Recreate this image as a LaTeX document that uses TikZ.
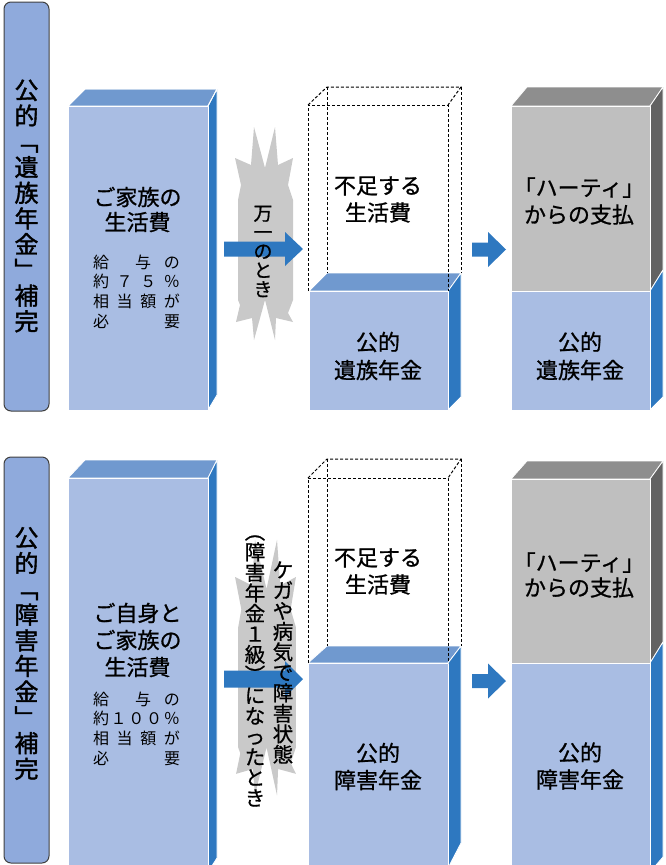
\documentclass[tikz,border=0pt]{standalone}
\usepackage{fontspec}
\setmainfont{Noto Sans CJK JP}
\newfontfamily\jp[FakeBold=0.9]{Noto Sans CJK JP}
\newfontfamily\jps{Noto Sans CJK JP}
\newfontfamily\jpv[FakeBold=0.8]{Noto Sans CJK JP}
\newfontfamily\jpvb[FakeBold=1.6]{Noto Sans CJK JP}
\definecolor{lbl}{HTML}{8FAADC}
\definecolor{lblb}{HTML}{404040}
\definecolor{bfront}{HTML}{A9BDE3}
\definecolor{btop}{HTML}{7099CF}
\definecolor{bside}{HTML}{2E78C0}
\definecolor{gfront}{HTML}{BFBFBF}
\definecolor{gtop}{HTML}{8E8E8E}
\definecolor{gside}{HTML}{626262}
\definecolor{burstc}{HTML}{C9C9C9}
\definecolor{arr}{HTML}{2E78C0}
\tikzset{
  face/.style={draw=white, line width=0.8pt, line join=round},
  dashbox/.style={draw=black, dash pattern=on 3pt off 2pt, line width=1pt},
  lblbox/.style={fill=lbl, draw=lblb, line width=1pt, rounded corners=7pt},
  lbltext/.style={font=\jpvb\fontsize{24}{25.7}\selectfont, align=center, inner sep=0},
  maintext/.style={font=\jp\fontsize{22}{#1}\selectfont, align=center, inner sep=0},
  smalltext/.style={font=\jps\fontsize{16}{19.7}\selectfont, align=left, inner sep=0},
  vtext/.style={font=\jpv\fontsize{#1}{#1}\selectfont, align=center, inner sep=0},
  burst/.style={fill=burstc},
}
\newcommand\burstpath{(-10.5,-106) -- (0.5,-65) -- (10.5,-106) -- (13.5,-68) -- (28.5,-75) -- (23.5,-48) -- (28.5,-33) -- (28.5,67) -- (23.5,80) -- (28.5,89) -- (11.5,85) -- (10.5,107) -- (0.5,67) -- (-10.5,107) -- (-12.5,85) -- (-28.5,89) -- (-24.5,72) -- (-26.5,67) -- (-26.5,-33) -- (-23.5,-48) -- (-29.5,-75) -- (-13.5,-68) -- cycle}
\begin{document}
\begin{tikzpicture}[x=1pt,y=-1pt]
\useasboundingbox (0,0) rectangle (665,865);

% ---------- side labels ----------
\draw[lblbox] (4,2) rectangle (49,411);
\node[lbltext] (lab1) at (26.5,206) {公\\的\\﹁\\遺\\族\\年\\金\\﹂\\補\\完};
\draw[lblbox] (4,457) rectangle (49,863);
\node[lbltext] (lab2) at (26.5,653.5) {公\\的\\﹁\\障\\害\\年\\金\\﹂\\補\\完};

% ---------- top row ----------
\fill[face, fill=btop] (68,106) -- (85,89) -- (217,89) -- (208,106) -- cycle;
\fill[face, fill=bside] (208,106) -- (217,89) -- (217,395) -- (208,410) -- cycle;
\filldraw[face, fill=bfront] (68,106) rectangle (208,410);
\draw[face] (68,106) -- (85,89) -- (217,89) -- (208,106);
\node[maintext=25] (t1) at (137.5,209.5) {ご家族の\\生活費};
\node[smalltext] (s1) at (136.5,291.5) {\hbox to 87pt{給\hfil\hfil 与\hfil の}\\
\hbox to 87pt{約\hfil ７\hfil ５\hfil ％}\\
\hbox to 87pt{相\hfil 当\hfil 額\hfil が}\\
\hbox to 87pt{必\hfil 要}};

\begin{scope}[shift={(264.5,233)}]
\fill[burst] \burstpath;
\end{scope}
\fill[arr] (224,241.5) -- (285,241.5) -- (285,232) -- (303,249) -- (285,266) -- (285,256.5) -- (224,256.5) -- cycle;
\node[vtext=19] (v1) at (263,251.5) {万\\一\\の\\と\\き};

\fill[face, fill=btop] (309,291) -- (327,273) -- (461,273) -- (448,291) -- cycle;
\fill[face, fill=bside] (448,291) -- (461,273) -- (461,397) -- (448,410) -- cycle;
\filldraw[face, fill=bfront] (309,291) rectangle (448,410);
\draw[dashbox] (308,291) -- (308,105) -- (448,105) -- (448,291);
\draw[dashbox] (308,105) -- (327,87) -- (461,87) -- (448,105);
\draw[dashbox] (327,87) -- (327,273);
\draw[dashbox] (461,87) -- (461,273);
\node[maintext=27] (t2) at (378,199.5) {不足する\\生活費};
\node[maintext=28] (t3) at (378,356) {公的\\遺族年金};

\fill[arr] (472,242.5) -- (488,242.5) -- (488,232) -- (506,249.5) -- (488,267) -- (488,256.5) -- (472,256.5) -- cycle;

\fill[face, fill=gtop] (511,106) -- (527,87) -- (663,87) -- (650,106) -- cycle;
\fill[face, fill=gside] (650,106) -- (663,87) -- (663,270) -- (650,291) -- cycle;
\fill[face, fill=bside] (650,291) -- (663,270) -- (663,397) -- (650,410) -- cycle;
\filldraw[face, fill=gfront] (511,106) rectangle (650,291);
\filldraw[face, fill=bfront] (511,291) rectangle (650,410);
\node[maintext=27] (t4) at (579,201) {「ハーティ」\\からの支払};
\node[maintext=28] (t5) at (580,356) {公的\\遺族年金};

% ---------- bottom row ----------
\fill[face, fill=btop] (68,478) -- (85,460) -- (217,460) -- (208,478) -- cycle;
\fill[face, fill=bside] (208,478) -- (217,460) -- (217,858) -- (208,872) -- cycle;
\filldraw[face, fill=bfront] (68,478) rectangle (208,872);
\node[maintext=27] (t6) at (137.5,640) {ご自身と\\ご家族の\\生活費};
\node[smalltext] (s2) at (136.5,728.5) {\hbox to 87pt{給\hfil\hfil 与\hfil の}\\
\hbox to 87pt{約\hfil １\hfil ０\hfil ０\hfil ％}\\
\hbox to 87pt{相\hfil 当\hfil 額\hfil が}\\
\hbox to 87pt{必\hfil 要}};

\begin{scope}[shift={(266,667)}, yscale=1.2, xscale=1.05]
\fill[burst] \burstpath;
\end{scope}
\fill[arr] (224,670.5) -- (285,670.5) -- (285,661) -- (303,679) -- (285,697) -- (285,687.5) -- (224,687.5) -- cycle;
\node[vtext=20.5] (v2) at (283,662.5) {ケ\\ガ\\や\\病\\気\\で\\障\\害\\状\\態};
\node[vtext=20.5] (v3) at (255,671) {︵\\障\\害\\年\\金\\１\\級\\︶\\に\\な\\っ\\た\\と\\き};

\fill[face, fill=btop] (308,663) -- (327,646) -- (461,646) -- (448,663) -- cycle;
\fill[face, fill=bside] (448,663) -- (461,646) -- (461,843) -- (448,868) -- cycle;
\filldraw[face, fill=bfront] (308,663) rectangle (448,872);
\draw[dashbox] (308,663) -- (308,478) -- (448,478) -- (448,663);
\draw[dashbox] (308,478) -- (327,459) -- (461,459) -- (448,478);
\draw[dashbox] (327,459) -- (327,646);
\draw[dashbox] (461,459) -- (461,646);
\node[maintext=27] (t7) at (378,571.5) {不足する\\生活費};
\node[maintext=27] (t8) at (378,766.5) {公的\\障害年金};

\fill[arr] (472,674) -- (488,674) -- (488,663.5) -- (506,681) -- (488,698.5) -- (488,688) -- (472,688) -- cycle;

\fill[face, fill=gtop] (511,479) -- (527,461) -- (663,461) -- (650,479) -- cycle;
\fill[face, fill=gside] (650,479) -- (663,461) -- (663,642) -- (650,663) -- cycle;
\fill[face, fill=bside] (650,663) -- (663,642) -- (663,857) -- (650,872) -- cycle;
\filldraw[face, fill=gfront] (511,479) rectangle (650,663);
\filldraw[face, fill=bfront] (511,663) rectangle (650,872);
\node[maintext=25] (t9) at (579,575) {「ハーティ」\\からの支払};
\node[maintext=27] (t10) at (580,766) {公的\\障害年金};
\end{tikzpicture}
\end{document}
